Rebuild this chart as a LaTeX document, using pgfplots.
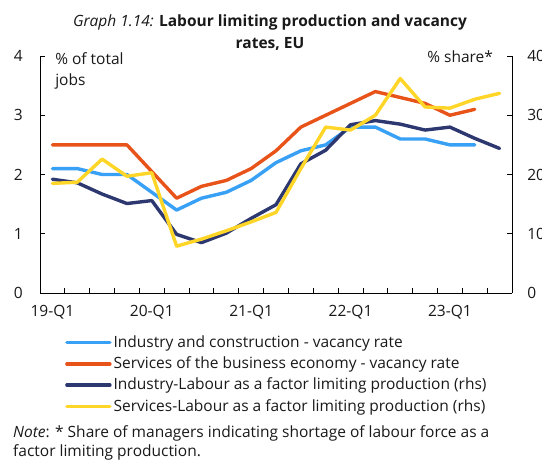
\documentclass[border=0pt]{standalone}
\usepackage{fontspec}
\setmainfont{Open Sans}
\usepackage{pgfplots}
\pgfplotsset{compat=1.18}
\definecolor{cblue}{RGB}{56,160,245}
\definecolor{corange}{RGB}{232,83,26}
\definecolor{cnavy}{RGB}{45,55,112}
\definecolor{cyellow}{RGB}{255,214,40}
\definecolor{ctext}{RGB}{25,25,25}
\newcommand{\fs}{\fontsize{15.5bp}{18bp}\selectfont}
\begin{document}
\fs
\begin{tikzpicture}
\useasboundingbox (-40bp,-168bp) rectangle (502bp,293bp);
\clip (-40bp,-168bp) rectangle (502bp,293bp);
\pgfplotsset{
  common/.style={
    scale only axis, width=472bp, height=237bp,
    at={(0bp,0bp)}, anchor=south west,
    xmin=-0.5, xmax=18.5, clip=false,
    tick align=inside, major tick length=5bp, minor tick length=5bp,
    tick style={black, line width=0.8bp},
    axis line style={black, line width=0.8bp},
    /pgf/number format/assume math mode=true,
    ticklabel style={font=\fs, text=ctext},
  },
  sline/.style={line width=3.4bp, line cap=round, line join=round},
}
\begin{axis}[common,
  ymin=0, ymax=4, ytick={0,1,2,3,4},
  axis y line*=left, axis x line*=bottom,
  xtick={0,4,8,12,16},
  xticklabels={19-Q1,20-Q1,21-Q1,22-Q1,23-Q1},
  major x tick style={draw=none},
  minor xtick={-0.5,0.5,...,18.5},
  yticklabel style={xshift=-12bp},
  xticklabel style={yshift=-7bp},
  legend style={at={(0.053,-0.171)}, anchor=north west, draw=none, fill=none,
    font=\fs, text=ctext,
    row sep=3bp, inner sep=0pt, cells={anchor=west}},
  legend image code/.code={\draw[#1, line width=3.4bp, line cap=round] (0bp,0bp) -- (43bp,0bp);},
  legend cell align=left,
]
\addplot[sline, cblue] coordinates {
(0,2.1)(1,2.1)(2,2.0)(3,2.0)(4,1.7)(5,1.4)(6,1.6)(7,1.7)(8,1.9)(9,2.2)
(10,2.4)(11,2.5)(12,2.8)(13,2.8)(14,2.6)(15,2.6)(16,2.5)(17,2.5)};
\addlegendentry{Industry and construction - vacancy rate}
\addplot[sline, corange] coordinates {
(0,2.5)(1,2.5)(2,2.5)(3,2.5)(4,2.05)(5,1.6)(6,1.8)(7,1.9)(8,2.1)(9,2.4)
(10,2.8)(11,3.0)(12,3.2)(13,3.4)(14,3.3)(15,3.2)(16,3.0)(17,3.1)};
\addlegendentry{Services of the business economy - vacancy rate}
\addlegendimage{cnavy}
\addlegendentry{Industry-Labour as a factor limiting production (rhs)}
\addlegendimage{cyellow}
\addlegendentry{Services-Labour as a factor limiting production (rhs)}
\node[anchor=north west, align=left, text=ctext, inner sep=0pt, font=\fontsize{15.5bp}{21bp}\selectfont] at (rel axis cs:0.032,1) [yshift=4bp] {\% of total\\jobs};
\node[anchor=north east, text=ctext, inner sep=0pt] at (rel axis cs:0.96,1) [yshift=5bp] {\% share*};
\end{axis}
\begin{axis}[common,
  ymin=0, ymax=40, ytick={0,10,20,30,40},
  axis y line*=right, axis x line=none,
  yticklabel style={xshift=10bp, anchor=west},
]
\addplot[sline, cnavy] coordinates {
(0,19.2)(1,18.6)(2,16.7)(3,15.1)(4,15.6)(5,9.9)(6,8.5)(7,10.1)(8,12.6)(9,14.9)
(10,21.8)(11,24.1)(12,28.4)(13,29.1)(14,28.5)(15,27.5)(16,28.0)(17,26.1)(18,24.4)};
\addplot[sline, cyellow] coordinates {
(0,18.5)(1,18.7)(2,22.6)(3,19.7)(4,20.3)(5,7.9)(6,9.1)(7,10.5)(8,12.0)(9,13.6)
(10,21.0)(11,28.0)(12,27.5)(13,30.0)(14,36.2)(15,31.4)(16,31.2)(17,32.7)(18,33.7)};
\end{axis}
\node[text=ctext] at (230bp,271bp) {\textit{Graph 1.14:} \textbf{Labour limiting production and vacancy}};
\node[text=ctext] at (230bp,249bp) {\textbf{rates, EU}};
\node[anchor=west, text=ctext, inner sep=0pt] at (-27bp,-140bp) {\textit{Note}: * Share of managers indicating shortage of labour force as a};
\node[anchor=west, text=ctext, inner sep=0pt] at (-27bp,-159.5bp) {factor limiting production.};
\end{tikzpicture}
\end{document}
